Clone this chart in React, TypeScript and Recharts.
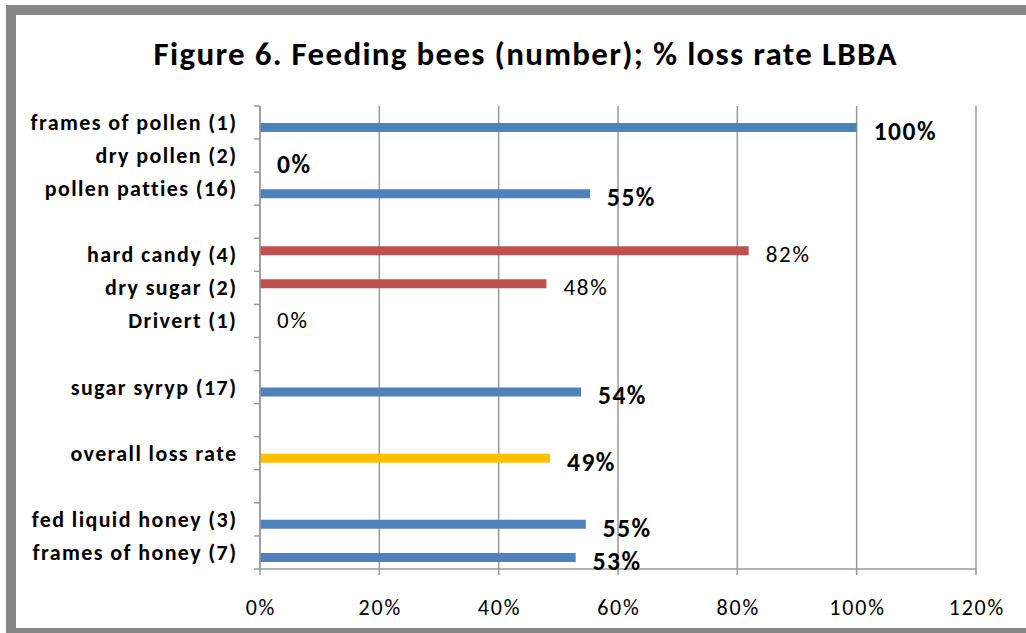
import React from 'react';
import { BarChart, Bar, XAxis, YAxis, CartesianGrid, Cell, LabelList } from 'recharts';

const title = 'Figure 6. Feeding bees (number); % loss rate LBBA';
const categories = [
  'frames of pollen (1)',
  'dry pollen (2)',
  'pollen patties (16)',
  '',
  'hard candy (4)',
  'dry sugar (2)',
  'Drivert (1)',
  '',
  'sugar syryp (17)',
  '',
  'overall loss rate',
  '',
  'fed liquid honey (3)',
  'frames of honey (7)',
];
const feedSeries: (number | null)[] = [1.0, 0, 0.553, null, null, null, null, null, 0.538, null, 0.486, null, 0.546, 0.529];
const sugarSeries: (number | null)[] = [null, null, null, null, 0.819, 0.48, 0, null, null, null, null, null, null, null];
const highlightCategory = 'overall loss rate';
const xTicks = [0, 0.2, 0.4, 0.6, 0.8, 1.0, 1.2];

const FONT = 'Carlito, Calibri, Lato, sans-serif';
const BLUE = '#4F81BD';
const RED = '#C0504D';
const YELLOW = '#FFC000';
const GRID = '#999999';

const W = 1026;
const H = 633;
const M_TOP = 106;
const Y_AXIS_W = 260;
const M_RIGHT = 50;
const X_AXIS_H = 64;
const PLOT_H = H - M_TOP - X_AXIS_H;
const BAND = PLOT_H / categories.length;

const data = categories.map((name, i) => ({
  id: `c${i}`,
  name,
  sugar: sugarSeries[i],
  feed: feedSeries[i],
}));

const pct = (v: number) => `${Math.round(v * 100)}%`;

const CatTick = (props: any) => {
  const { y, payload, index } = props;
  const cy = payload && typeof payload.coordinate === 'number' ? payload.coordinate : y;
  const label = categories[index] ?? '';
  const fs = 22;
  const ls = 1.4;
  const top = cy - BAND / 2;
  const bottom = cy + BAND / 2;
  return (
    <g>
      <line x1={Y_AXIS_W - 6} x2={Y_AXIS_W} y1={top} y2={top} stroke={GRID} strokeWidth={1.5} />
      {index === categories.length - 1 && (
        <line x1={Y_AXIS_W - 6} x2={Y_AXIS_W} y1={bottom} y2={bottom} stroke={GRID} strokeWidth={1.5} />
      )}
      <text
        x={Y_AXIS_W - 24 + ls}
        y={cy + 7.5}
        textAnchor="end"
        fontFamily={FONT}
        fontWeight={700}
        fontSize={fs}
        letterSpacing={ls}
        fill="#000"
      >
        {label}
      </text>
    </g>
  );
};

const makeLabel = (bold: boolean) => (props: any) => {
  const vb = props.viewBox ?? props;
  const { x, y, width, height } = vb;
  const value = props.value;
  if (value === null || value === undefined) return null;
  const fs = bold ? 25.5 : 23;
  const ls = bold ? 1.5 : 1.8;
  const cy = y + height / 2 + 3.5;
  return (
    <text
      x={x + Math.max(0, width) + 17}
      y={cy + fs * 0.35}
      fontFamily={FONT}
      fontWeight={bold ? 700 : 400}
      fontSize={fs}
      letterSpacing={ls}
      fill="#000"
    >
      {pct(value)}
    </text>
  );
};

const XTick = (props: any) => {
  const { x, y, payload } = props;
  const fs = 22;
  const ls = 1.8;
  return (
    <text x={x + ls / 2} y={y} dy="0.71em" textAnchor="middle" fontFamily={FONT} fontSize={fs} letterSpacing={ls} fill="#000">
      {pct(payload.value)}
    </text>
  );
};

const zeroMin = (value: any) => (value === 0 ? 0.001 : 0);

export default function App() {
  return (
    <div style={{ position: 'absolute', left: 0, top: 0, width: W, height: H, overflow: 'hidden', background: '#fff' }}>
      <div
        style={{
          position: 'absolute',
          left: 6,
          top: 5,
          width: 1040,
          height: 633,
          boxSizing: 'border-box',
          border: '10px solid #878787',
        }}
      />
      <svg width={W} height={90} style={{ position: 'absolute', left: 0, top: 0 }}>
        <text x={525 + 0.65} y={65} textAnchor="middle" fontFamily={FONT} fontWeight={700} fontSize={33} letterSpacing={1.3} fill="#000">
          {title}
        </text>
      </svg>
      <div style={{ position: 'absolute', left: 0, top: 0 }}>
        <BarChart
          width={W}
          height={H}
          data={data}
          layout="vertical"
          margin={{ top: M_TOP, right: M_RIGHT, bottom: 0, left: 0 }}
          barGap={0}
          barSize={9}
        >
          <CartesianGrid horizontal={false} vertical stroke={GRID} strokeWidth={1.5} />
          <XAxis
            type="number"
            domain={[0, 1.2]}
            ticks={xTicks}
            interval={0}
            tickFormatter={pct}
            height={X_AXIS_H}
            axisLine={{ stroke: GRID, strokeWidth: 1.5 }}
            tickLine={{ stroke: GRID, strokeWidth: 1.5 }}
            tickSize={6}
            tickMargin={24}
            tick={<XTick />}
          />
          <YAxis
            type="category"
            dataKey="id"
            width={Y_AXIS_W}
            interval={0}
            axisLine={{ stroke: GRID, strokeWidth: 1.5 }}
            tickLine={false}
            tick={<CatTick />}
          />
          <Bar dataKey="sugar" fill={RED} minPointSize={zeroMin} isAnimationActive={false}>
            <LabelList dataKey="sugar" content={makeLabel(false)} />
          </Bar>
          <Bar dataKey="feed" fill={BLUE} minPointSize={zeroMin} isAnimationActive={false}>
            {data.map((d) => (
              <Cell key={d.id} fill={d.name === highlightCategory ? YELLOW : BLUE} />
            ))}
            <LabelList dataKey="feed" content={makeLabel(true)} />
          </Bar>
        </BarChart>
      </div>
    </div>
  );
}
